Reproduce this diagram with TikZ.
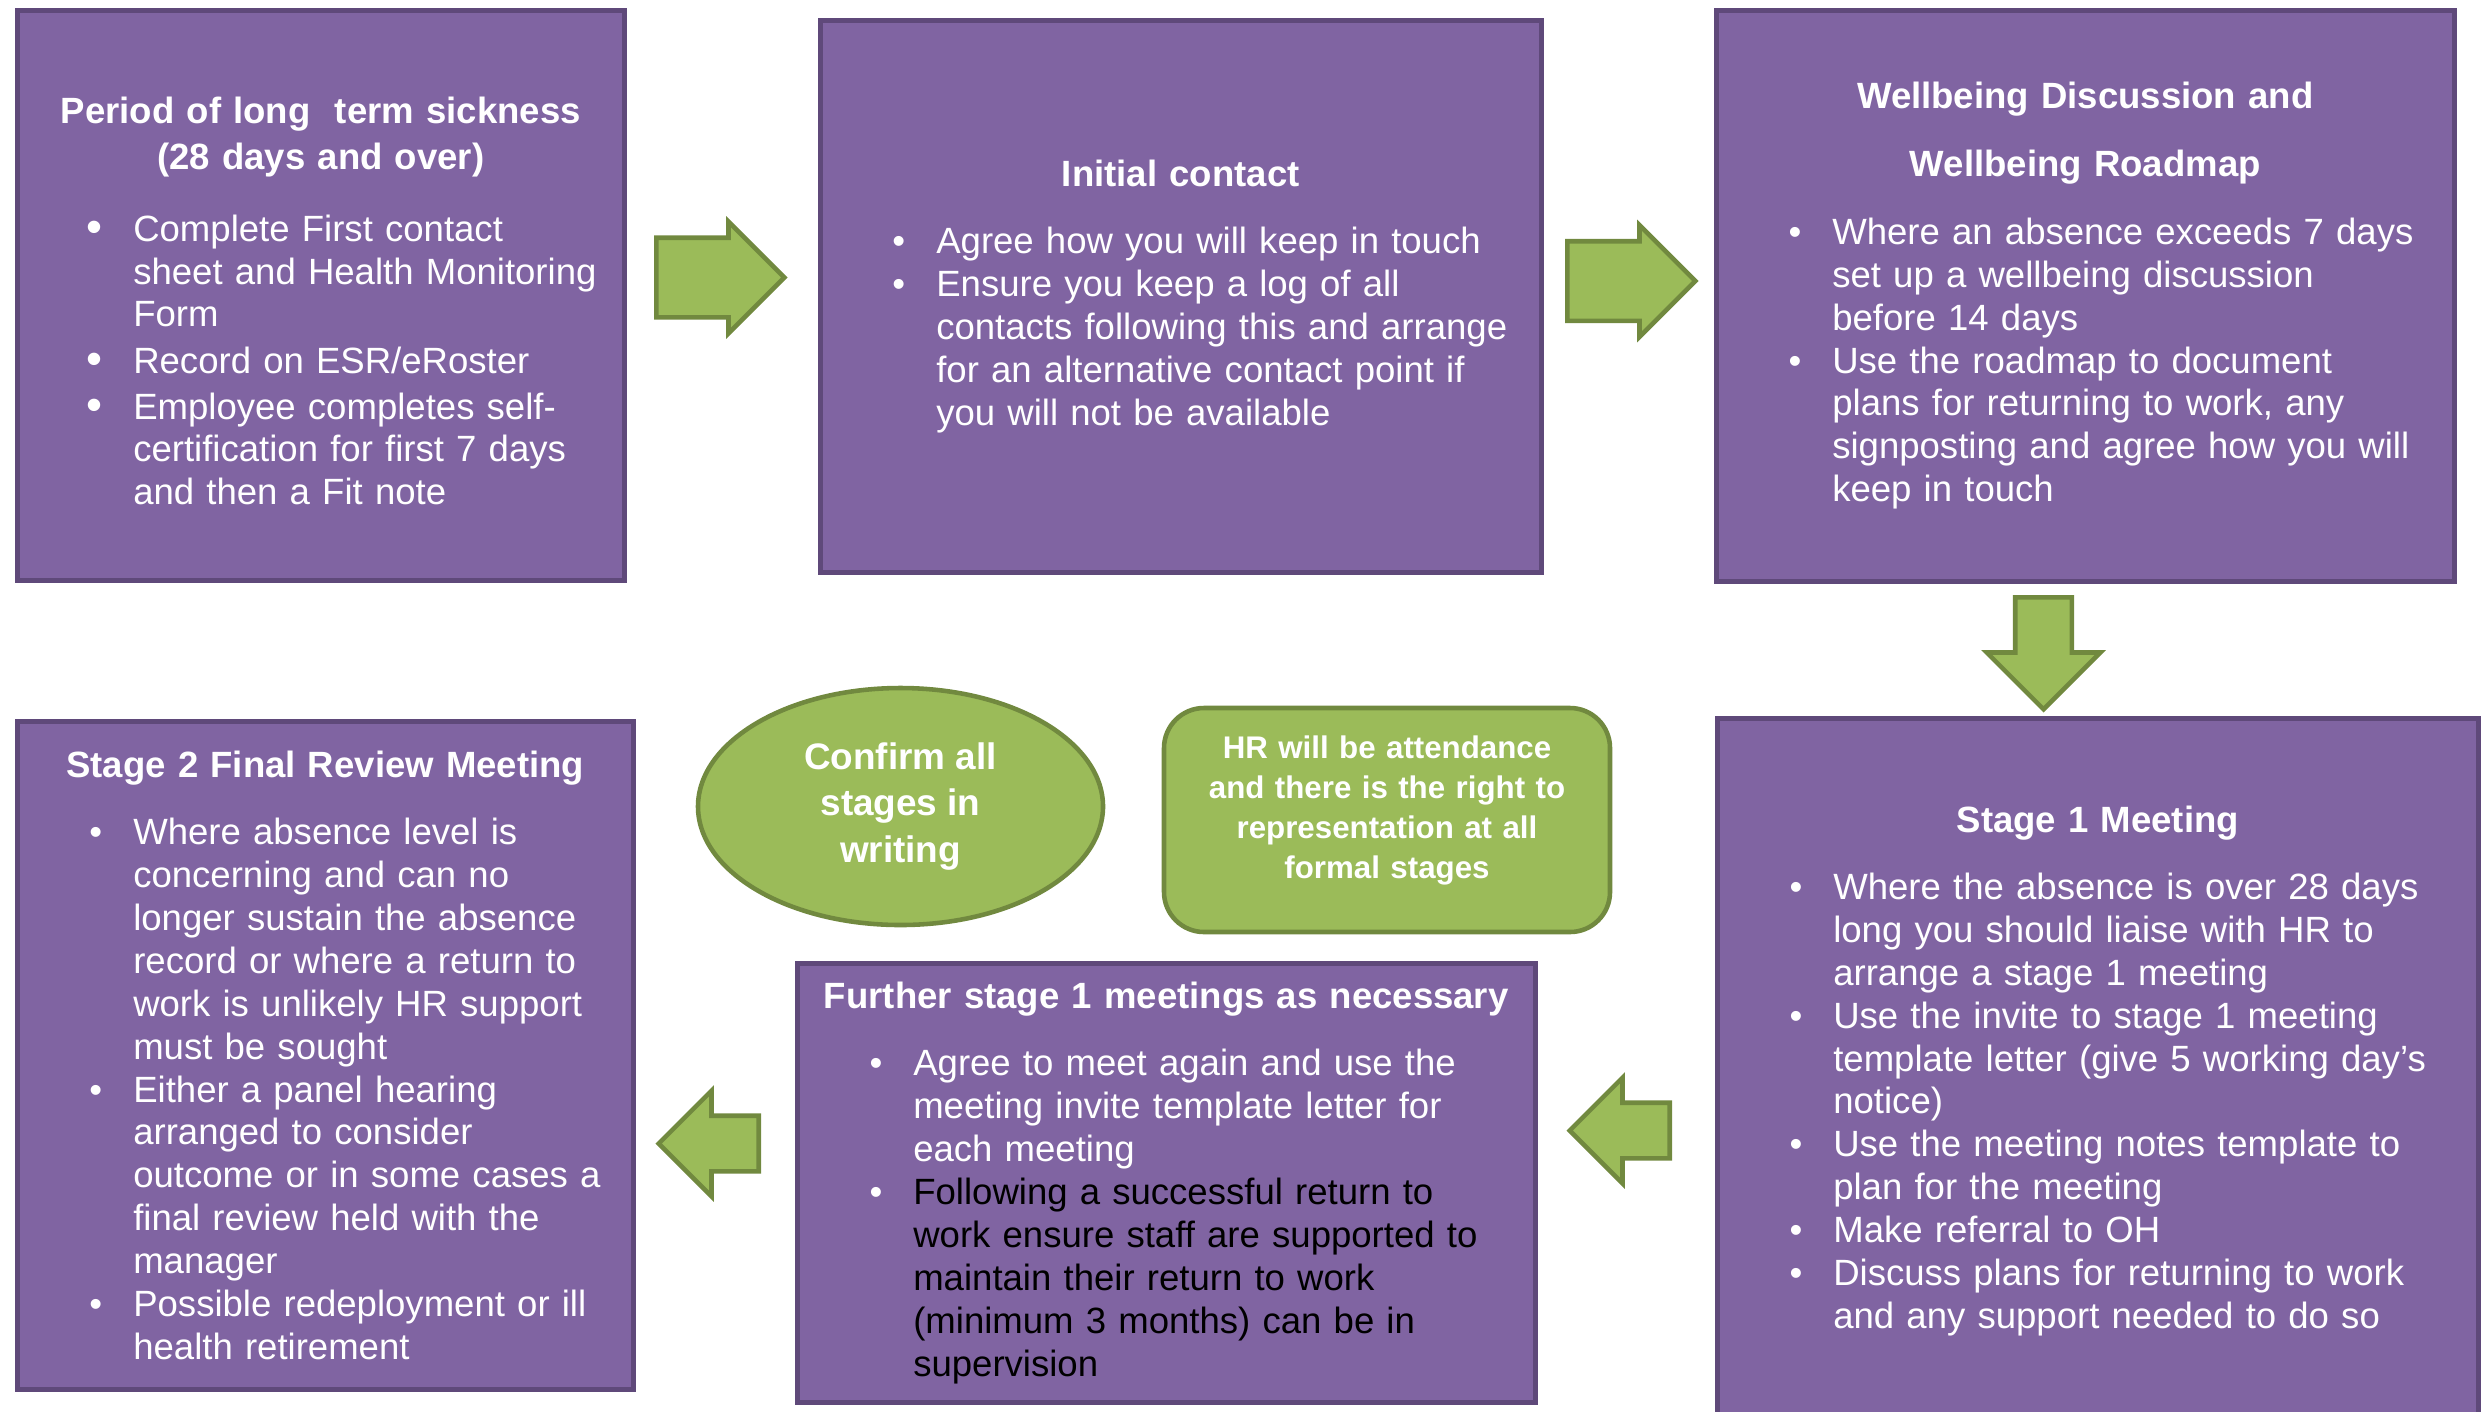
\documentclass[tikz,border=0pt]{standalone}
\usepackage{fontspec}
\setmainfont{Liberation Sans}
\usepackage{enumitem}
\usetikzlibrary{shapes,positioning}

\definecolor{stagefill}{HTML}{8064A2}
\definecolor{stageline}{HTML}{5F497A}
\definecolor{notefill}{HTML}{9BBB59}
\definecolor{noteline}{HTML}{71893F}

\newcommand{\bodyfont}{\fontsize{10.4}{12.2}\selectfont}
\newcommand{\hd}[2][7pt]{{\centering\bfseries #2\par}\vspace{#1}}
\setlist[itemize]{label=\textbullet,leftmargin=1.16cm,labelindent=0pt,labelwidth=0.85cm,labelsep=0.31cm,align=right,topsep=0pt,partopsep=0pt,itemsep=0pt,parsep=0pt}

\tikzstyle{stage}=[rectangle,draw=stageline,fill=stagefill,line width=1.3pt,inner sep=0pt,anchor=north west,align=left,text=white,font=\bodyfont]
\tikzstyle{note}=[draw=noteline,fill=notefill,line width=1.3pt,inner sep=0pt,align=center,text=white]
\tikzstyle{fwd}=[single arrow,draw=noteline,fill=notefill,line width=1.3pt,inner xsep=0pt,single arrow tip angle=90,anchor=tail]

\begin{document}
\begin{tikzpicture}

    \useasboundingbox (0,0) rectangle (24.86,-14.11);

    % Stufen
    \node[stage, text width=6.07cm, minimum height=5.70cm] (sick) at (0.15,-0.08) {%
      \hd[8.3pt]{Period of long\ \ term sickness\\[0.9pt](28 days and over)}
      \begin{itemize}[itemsep=0.9pt,label={\raisebox{-0.5pt}{\fontsize{13}{13}\selectfont\textbullet}}]
        \item Complete First contact\\sheet and Health Monitoring\\Form
        \item Record on ESR/eRoster
        \item Employee completes self-\\certification for first 7 days\\and then a Fit note
      \end{itemize}\par\kern-3.2pt};
    \node[stage, text width=7.21cm, minimum height=5.52cm] (contact) at (8.18,-0.18) {%
      \hd{Initial contact}
      \begin{itemize}
        \item Agree how you will keep in touch
        \item Ensure you keep a log of all\\contacts following this and arrange\\for an alternative contact point if\\you will not be available
      \end{itemize}};
    \node[stage, text width=7.38cm, minimum height=5.71cm] (wellbeing) at (17.14,-0.08) {%
      \hd{Wellbeing Discussion and\\[7.2pt]Wellbeing Roadmap}
      \begin{itemize}
        \item Where an absence exceeds 7 days\\set up a wellbeing discussion\\before 14 days
        \item Use the roadmap to document\\plans for returning to work, any\\signposting and agree how you will\\keep in touch
      \end{itemize}};
    \node[stage, text width=7.61cm, minimum height=7.05cm] (stageone) at (17.15,-7.16) {%
      \hd{Stage 1 Meeting}
      \begin{itemize}
        \item Where the absence is over 28 days\\long you should liaise with HR to\\arrange a stage 1 meeting
        \item Use the invite to stage 1 meeting\\template letter (give 5 working day’s\\notice)
        \item Use the meeting notes template to\\plan for the meeting
        \item Make referral to OH
        \item Discuss plans for returning to work\\and any support needed to do so
      \end{itemize}};
    \node[stage, text width=7.38cm, minimum height=4.39cm] (further) at (7.95,-9.61) {%
      \hd{Further stage 1 meetings as necessary}
      \begin{itemize}
        \item Agree to meet again and use the\\meeting invite template letter for\\each meeting
        \item \color{black}Following a successful return to\\work ensure staff are supported to\\maintain their return to work\\(minimum 3 months) can be in\\supervision
      \end{itemize}};
    \node[stage, text width=6.16cm, minimum height=6.68cm] (stagetwo) at (0.15,-7.19) {%
      \hd{Stage 2 Final Review Meeting}
      \begin{itemize}
        \item Where absence level is\\concerning and can no\\longer sustain the absence\\record or where a return to\\work is unlikely HR support\\must be sought
        \item Either a panel hearing\\arranged to consider\\outcome or in some cases a\\final review held with the\\manager
        \item Possible redeployment or ill\\health retirement
      \end{itemize}};

    % Hinweise
    \node[note, ellipse, minimum width=4.05cm, minimum height=2.37cm, font=\fontsize{10.5}{13.3}\selectfont\bfseries] (confirm) at (9.005,-8.065) {Confirm all\\stages in\\writing};
    \node[note, rounded corners=0.4cm, minimum width=4.46cm, minimum height=2.24cm, text width=4.4cm, font=\fontsize{8.9}{11.4}\selectfont\bfseries] (hrnote) at (13.87,-8.20) {HR will be attendance\\and there is the right to\\representation at all\\formal stages\par\kern0.19cm};

    % Pfeile
    \node[fwd, minimum height=1.28cm, minimum width=1.07cm, inner ysep=0.375cm, single arrow head extend=0.16cm] (a1) at (6.54,-2.775) {};
    \node[fwd, minimum height=1.28cm, minimum width=1.07cm, inner ysep=0.375cm, single arrow head extend=0.16cm] (a2) at (15.65,-2.81) {};
    \node[fwd, rotate=-90, minimum height=1.12cm, minimum width=1.09cm, inner ysep=0.26cm, single arrow head extend=0.285cm] (a3) at (20.435,-5.95) {};
    \node[fwd, rotate=180, minimum height=1.00cm, minimum width=1.01cm, inner ysep=0.255cm, single arrow head extend=0.25cm] (a4) at (16.72,-11.305) {};
    \node[fwd, rotate=180, minimum height=1.00cm, minimum width=1.01cm, inner ysep=0.255cm, single arrow head extend=0.25cm] (a5) at (7.61,-11.435) {};

\end{tikzpicture}
\end{document}
